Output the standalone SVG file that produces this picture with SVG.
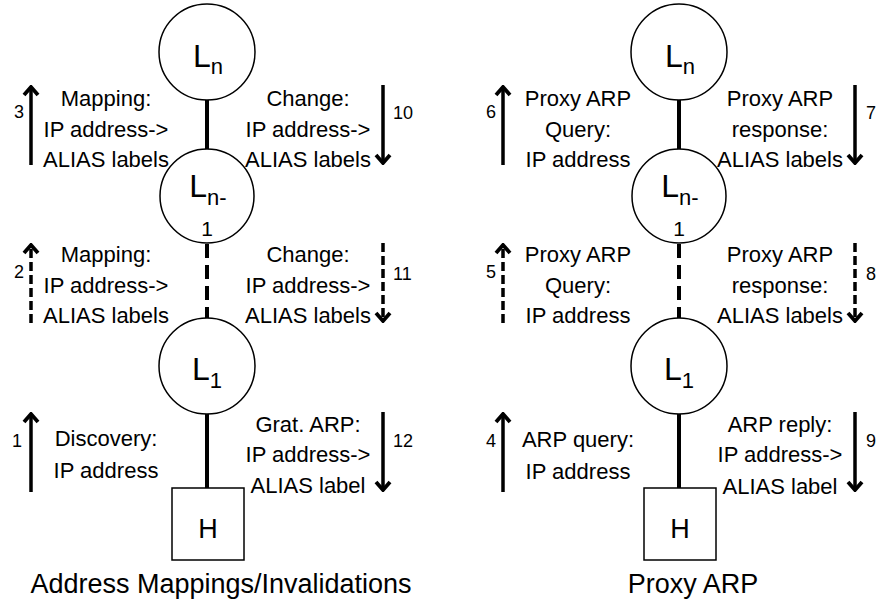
<svg xmlns="http://www.w3.org/2000/svg" width="877" height="604" viewBox="0 0 877 604">
<style>
text{font-family:"Liberation Sans",Arial,sans-serif;fill:#000}
.lbl{font-size:22px;text-anchor:middle}
.num{font-size:18px}
.ttl{font-size:27px;text-anchor:middle}
.node{fill:#fff;stroke:#000;stroke-width:1.5}
.link{stroke:#000;stroke-width:4;fill:none}
.dash{stroke-dasharray:14 7}
.arr{stroke:#000;stroke-width:3.5;fill:none}
.arrd{stroke-dasharray:9 4}
.big{font-size:32px;text-anchor:middle}
.sub{font-size:22px}
.sub2{font-size:21px;text-anchor:middle}
</style>
<defs>
<marker id="ah" markerUnits="userSpaceOnUse" viewBox="-12 -10 14 20" refX="0" refY="0" markerWidth="14" markerHeight="20" orient="auto">
<polyline points="-8,-7 0,0 -8,7" fill="none" stroke="#000" stroke-width="3.8" stroke-linecap="butt" stroke-linejoin="miter"/>
</marker>
</defs>
<g id="connectors">
<line class="link" x1="207" y1="100" x2="207" y2="150"/>
<line class="link dash" x1="207" y1="244" x2="207" y2="318"/>
<line class="link" x1="207" y1="414" x2="207" y2="488"/>
<line class="link" x1="679" y1="100" x2="679" y2="150"/>
<line class="link dash" x1="679" y1="244" x2="679" y2="318"/>
<line class="link" x1="679" y1="414" x2="679" y2="488"/>
</g>
<g id="arrows">
<line class="arr" x1="31" y1="165" x2="31" y2="87" marker-end="url(#ah)"/>
<line class="arr arrd" x1="31" y1="323" x2="31" y2="245" marker-end="url(#ah)"/>
<line class="arr" x1="31" y1="492" x2="31" y2="414" marker-end="url(#ah)"/>
<line class="arr" x1="383" y1="85" x2="383" y2="163" marker-end="url(#ah)"/>
<line class="arr arrd" x1="383" y1="243" x2="383" y2="321" marker-end="url(#ah)"/>
<line class="arr" x1="383" y1="412" x2="383" y2="490" marker-end="url(#ah)"/>
<line class="arr" x1="503" y1="165" x2="503" y2="87" marker-end="url(#ah)"/>
<line class="arr arrd" x1="503" y1="323" x2="503" y2="245" marker-end="url(#ah)"/>
<line class="arr" x1="503" y1="492" x2="503" y2="414" marker-end="url(#ah)"/>
<line class="arr" x1="855" y1="85" x2="855" y2="163" marker-end="url(#ah)"/>
<line class="arr arrd" x1="855" y1="243" x2="855" y2="321" marker-end="url(#ah)"/>
<line class="arr" x1="855" y1="412" x2="855" y2="490" marker-end="url(#ah)"/>
</g>
<g id="L-n-left"><circle class="node" cx="207" cy="52" r="48"/><text class="big" x="208" y="67">L<tspan class="sub" dy="7">n</tspan></text></g>
<g id="L-n1-left"><circle class="node" cx="207" cy="196" r="47"/><text class="big" x="208" y="197">L<tspan class="sub" dy="8">n-</tspan></text><text class="sub2" x="207" y="236">1</text></g>
<g id="L-1-left"><circle class="node" cx="207" cy="366" r="48"/><text class="big" x="207" y="380">L<tspan class="sub" dy="8">1</tspan></text></g>
<g id="H-left"><rect class="node" x="172" y="488" width="72" height="72"/><text x="208" y="538" font-size="27" text-anchor="middle">H</text></g>
<g id="L-n-right"><circle class="node" cx="679" cy="52" r="48"/><text class="big" x="680" y="67">L<tspan class="sub" dy="7">n</tspan></text></g>
<g id="L-n1-right"><circle class="node" cx="679" cy="196" r="47"/><text class="big" x="680" y="197">L<tspan class="sub" dy="8">n-</tspan></text><text class="sub2" x="679" y="236">1</text></g>
<g id="L-1-right"><circle class="node" cx="679" cy="366" r="48"/><text class="big" x="679" y="380">L<tspan class="sub" dy="8">1</tspan></text></g>
<g id="H-right"><rect class="node" x="644" y="488" width="72" height="72"/><text x="680" y="538" font-size="27" text-anchor="middle">H</text></g>
<g id="labels">
<text class="lbl" x="106" y="106">Mapping:</text>
<text class="lbl" x="106" y="137">IP address-&gt;</text>
<text class="lbl" x="106" y="167">ALIAS labels</text>
<text class="lbl" x="308" y="106">Change:</text>
<text class="lbl" x="308" y="137">IP address-&gt;</text>
<text class="lbl" x="308" y="167">ALIAS labels</text>
<text class="lbl" x="106" y="262">Mapping:</text>
<text class="lbl" x="106" y="293">IP address-&gt;</text>
<text class="lbl" x="106" y="323">ALIAS labels</text>
<text class="lbl" x="308" y="262">Change:</text>
<text class="lbl" x="308" y="293">IP address-&gt;</text>
<text class="lbl" x="308" y="323">ALIAS labels</text>
<text class="lbl" x="106" y="446">Discovery:</text>
<text class="lbl" x="106" y="478">IP address</text>
<text class="lbl" x="308" y="432">Grat. ARP:</text>
<text class="lbl" x="308" y="462">IP address-&gt;</text>
<text class="lbl" x="308" y="493">ALIAS label</text>
<text class="lbl" x="578" y="106">Proxy ARP</text>
<text class="lbl" x="578" y="137">Query:</text>
<text class="lbl" x="578" y="167">IP address</text>
<text class="lbl" x="780" y="106">Proxy ARP</text>
<text class="lbl" x="780" y="137">response:</text>
<text class="lbl" x="780" y="167">ALIAS labels</text>
<text class="lbl" x="578" y="262">Proxy ARP</text>
<text class="lbl" x="578" y="293">Query:</text>
<text class="lbl" x="578" y="323">IP address</text>
<text class="lbl" x="780" y="262">Proxy ARP</text>
<text class="lbl" x="780" y="293">response:</text>
<text class="lbl" x="780" y="323">ALIAS labels</text>
<text class="lbl" x="578" y="447">ARP query:</text>
<text class="lbl" x="578" y="479">IP address</text>
<text class="lbl" x="780" y="432">ARP reply:</text>
<text class="lbl" x="780" y="462">IP address-&gt;</text>
<text class="lbl" x="780" y="494">ALIAS label</text>
<text class="num" x="24" y="118" text-anchor="end">3</text>
<text class="num" x="24" y="278" text-anchor="end">2</text>
<text class="num" x="22" y="447" text-anchor="end">1</text>
<text class="num" x="393" y="119">10</text>
<text class="num" x="393" y="280">11</text>
<text class="num" x="393" y="447">12</text>
<text class="num" x="496" y="118" text-anchor="end">6</text>
<text class="num" x="496" y="278" text-anchor="end">5</text>
<text class="num" x="496" y="447" text-anchor="end">4</text>
<text class="num" x="866" y="119">7</text>
<text class="num" x="866" y="280">8</text>
<text class="num" x="866" y="447">9</text>
<text class="ttl" x="221" y="593">Address Mappings/Invalidations</text>
<text class="ttl" x="693" y="593">Proxy ARP</text>
</g>
</svg>
